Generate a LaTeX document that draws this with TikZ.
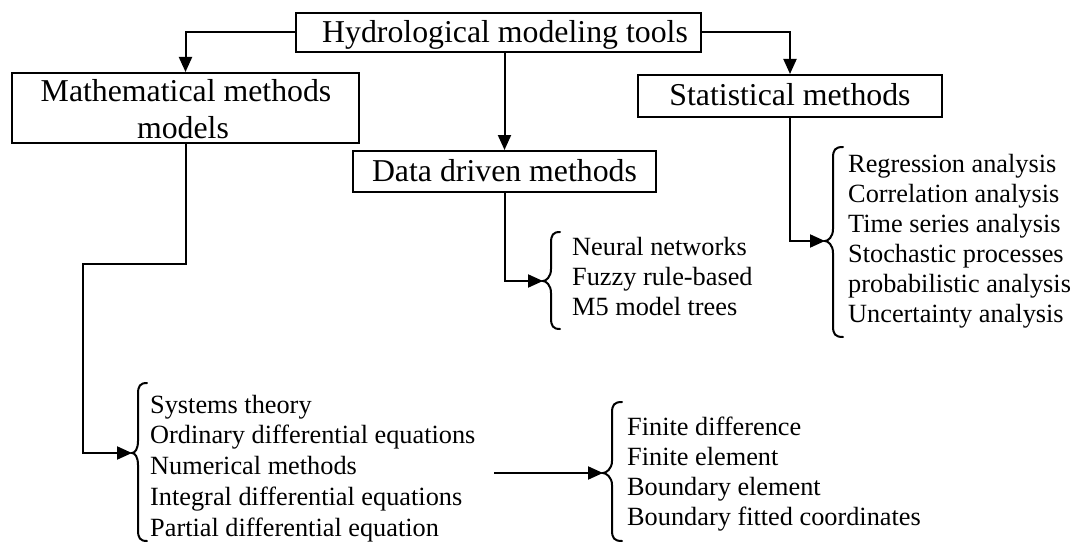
\documentclass[tikz,border=0pt]{standalone}
\usepackage{fontspec}
\setmainfont{Liberation Serif}
\usetikzlibrary{arrows.meta}
\newcommand\mybrace[6]{%
  \draw[bracepath] (#3,#4) .. controls ({#2+2},#4) and (#2,{#4+3}) .. (#2,{#4+11})
    -- (#2,{#5-12}) .. controls (#2,{#5-4}) and ({#1+3},#5) .. (#1,#5)
    .. controls ({#1+3},#5) and (#2,{#5+4}) .. (#2,{#5+12})
    -- (#2,{#6-11}) .. controls (#2,{#6-3}) and ({#2+2},#6) .. (#3,#6);}
\begin{document}
\begin{tikzpicture}[x=1pt,y=-1pt,
  boxnode/.style={draw, line width=2pt, inner sep=0pt,
    font=\fontsize{31.8}{38}\selectfont, text height=22pt, text depth=2pt},
  boxtext/.style={inner sep=0pt, font=\fontsize{31.8}{38}\selectfont},
  item/.style={inner sep=0pt, anchor=base west, font=\fontsize{26.3}{30}\selectfont},
  conn/.style={line width=2pt},
  arr/.style={conn, -{Triangle[length=15pt,width=13pt]}},
  bracepath/.style={line width=2pt, line cap=round}
]
\useasboundingbox (0,0) rectangle (1074,543);

% boxes
\node[boxnode, minimum width=405pt, minimum height=39pt] (top) at (498.5,32.5)
  {\hspace*{13pt}Hydrological modeling tools};
\node[boxnode, minimum width=347pt, minimum height=70pt] (math) at (185.5,108) {};
\node[boxtext, anchor=base] (mathA) at (186,101) {Mathematical methods};
\node[boxtext, anchor=base] (mathB) at (183,139) {models};
\node[boxnode, minimum width=303pt, minimum height=41pt] (data) at (504.5,171.5)
  {Data driven methods};
\node[boxnode, minimum width=304pt, minimum height=42pt] (stat) at (790,96)
  {Statistical methods};

% brace tips
\coordinate (mtip) at (132,453);
\coordinate (dtip) at (543,281);
\coordinate (stip) at (825,241);
\coordinate (ftip) at (603,473);
\coordinate (fstart) at (494,473);

% connectors
\draw[arr] (top.west) -| (math.north);
\draw[arr] (top.south -| data.north) -- (data.north);
\draw[arr] (top.east) -| (stat.north);
\draw[arr] (math.south) |- (83,264) |- (mtip);
\draw[arr] (data.south) |- (dtip);
\draw[arr] (stat.south) |- (stip);
\draw[arr] (fstart) -- (ftip);

% braces
\mybrace{132}{138}{147}{383}{453}{541}
\mybrace{543}{551}{560}{232}{281}{329}
\mybrace{825}{833}{843}{147}{241}{337}
\mybrace{603}{612}{622}{402}{473}{541}

% lists
\foreach \t [count=\i from 0] in {Regression analysis, Correlation analysis,
  Time series analysis, Stochastic processes, probabilistic analysis,
  Uncertainty analysis}
  \node[item] (st\i) at (848,{172+30*\i}) {\t};
\foreach \t [count=\i from 0] in {Neural networks, Fuzzy rule-based, M5 model trees}
  \node[item] (dd\i) at (572,{255+30*\i}) {\t};
\foreach \t [count=\i from 0] in {Systems theory, Ordinary differential equations,
  Numerical methods, Integral differential equations, Partial differential equation}
  \node[item] (mm\i) at (150,{413+30.8*\i}) {\t};
\foreach \t [count=\i from 0] in {Finite difference, Finite element,
  Boundary element, Boundary fitted coordinates}
  \node[item] (fe\i) at (627,{435+30*\i}) {\t};
\end{tikzpicture}
\end{document}
